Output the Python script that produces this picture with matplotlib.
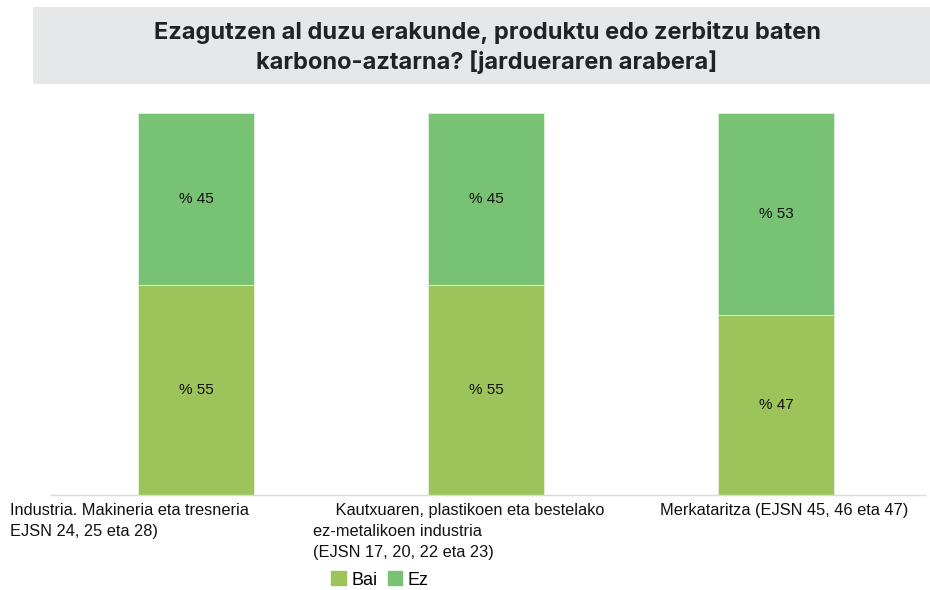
import matplotlib
matplotlib.use("Agg")
import matplotlib.pyplot as plt
from matplotlib.patches import Rectangle
from matplotlib.lines import Line2D

categories = [
    "Industria. Makineria eta tresneria\nEJSN 24, 25 eta 28)",
    "     Kautxuaren, plastikoen eta bestelako\nez-metalikoen industria\n(EJSN 17, 20, 22 eta 23)",
    "Merkataritza (EJSN 45, 46 eta 47)",
]
bai = [55, 55, 47]
ez = [45, 45, 53]
series_names = ["Bai", "Ez"]
title = "Ezagutzen al duzu erakunde, produktu edo zerbitzu baten\nkarbono-aztarna? [jardueraren arabera]"

c_bai = "#9dc45a"
c_ez = "#78c274"
lab_font = ["Liberation Sans Narrow", "Liberation Sans", "DejaVu Sans"]

W, H = 930, 590
fig = plt.figure(figsize=(W / 100, H / 100), dpi=100)

# title box
fig.patches.append(Rectangle((33 / W, 1 - 84 / H), (W - 33) / W, 77 / H,
                             transform=fig.transFigure, facecolor="#e6e7e8",
                             edgecolor="none", zorder=0))
fig.text(487 / W, 1 - 47.5 / H, title, ha="center", va="center",
         fontsize=17, fontweight="bold", family=["Inter", "DejaVu Sans"],
         color="#222222", linespacing=1.33)

ax = fig.add_axes([51 / W, 1 - 495 / H, 870 / W, (495 - 113) / H])
x = list(range(len(categories)))
ax.bar(x, bai, width=0.4, color=c_bai, edgecolor="#e8f0dc", linewidth=0.6, label=series_names[0])
ax.bar(x, ez, width=0.4, bottom=bai, color=c_ez, edgecolor="#e0efdf", linewidth=0.6, label=series_names[1])
ax.set_xlim(-0.5, 2.5)
ax.set_ylim(0, 100)
for s in ax.spines.values():
    s.set_visible(False)
ax.set_xticks([])
ax.set_yticks([])
ax.add_line(Line2D([0, 874 / 870], [0, 0], transform=ax.transAxes, color="#d9d9d9",
                   linewidth=1.0, clip_on=False))

for i in x:
    ax.text(i, bai[i] / 2, f"% {bai[i]}", ha="center", va="center", fontsize=11,
            family=lab_font, color="#111111")
    ax.text(i, bai[i] + ez[i] / 2, f"% {ez[i]}", ha="center", va="center", fontsize=11,
            family=lab_font, color="#111111")

# category labels
label_pos = [(10, "left"), (313, "left"), (660, "left")]
for (px, ha), lab in zip(label_pos, categories):
    fig.text(px / W, 1 - 503 / H, lab, ha=ha, va="top", fontsize=11.8,
             family=lab_font, color="#111111", linespacing=1.5)

# legend
leg = fig.legend(handles=[Rectangle((0, 0), 1, 1, color=c_bai), Rectangle((0, 0), 1, 1, color=c_ez)],
                 labels=series_names, loc="center", bbox_to_anchor=(380 / W, 1 - 580 / H),
                 ncol=2, frameon=False, handlelength=0.8, handleheight=0.8,
                 handletextpad=0.3, columnspacing=0.6,
                 prop={"family": lab_font, "size": 13})

fig.savefig("out.png", dpi=100)
